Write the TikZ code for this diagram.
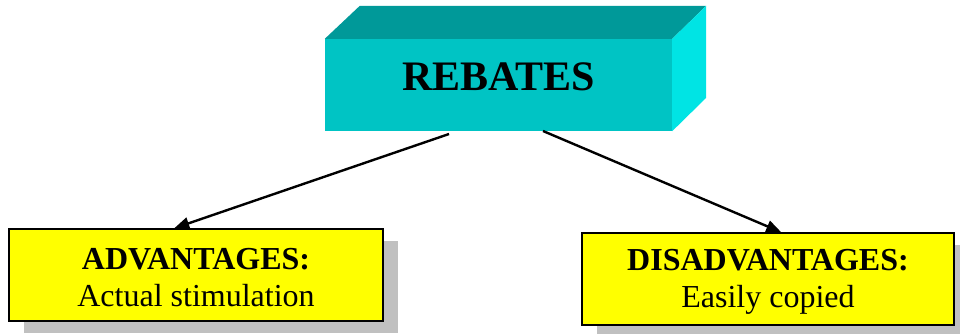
\documentclass[tikz,border=0pt]{standalone}
\usepackage{fontspec}
\setmainfont{Liberation Serif}
\usetikzlibrary{arrows.meta,calc}
\definecolor{cyanfront}{RGB}{0,196,196}
\definecolor{cyantop}{RGB}{0,153,153}
\definecolor{cyanside}{RGB}{0,228,228}
\definecolor{boxyellow}{RGB}{255,255,0}
\definecolor{shadowgray}{RGB}{192,192,192}
\begin{document}
\begin{tikzpicture}[x=1pt,y=-1pt,
  infobox/.style={draw=black,line width=1.5pt,fill=boxyellow,
    minimum width=374pt,minimum height=92pt,inner sep=0pt},
  boxtext/.style={align=center,font=\fontsize{32}{37}\selectfont},
  shadowbox/.style={fill=shadowgray,draw=none,
    minimum width=374pt,minimum height=92pt,inner sep=0pt},
  link/.style={line width=2.4pt,-{Triangle[length=15pt,width=12pt]}}]
\useasboundingbox (0,0) rectangle (960,334);

% 3D title block: front face, top face and right side
\node[fill=cyanfront,minimum width=347pt,minimum height=92pt,inner sep=0pt] (title) at (498.5,85) {};
\fill[cyantop] (title.north west) -- ++(35,-33) -- ($(title.north east)+(34,-33)$) -- (title.north east) -- cycle;
\fill[cyanside] (title.north east) -- ++(34,-33) -- ++(0,92) -- (title.south east) -- cycle;
\node[font=\fontsize{42}{44}\selectfont\bfseries] (titletext) at (498.5,77) {REBATES};

% shadows behind the two result boxes
\node[shadowbox] at (211,287) {};
\node[shadowbox,minimum width=372pt] at (783,291) {};

\node[infobox] (adv) at (196,275) {};
\node[boxtext] (advtext) at (196,278) {\textbf{ADVANTAGES:}\\Actual stimulation};
\node[infobox,minimum width=372pt] (dis) at (768,279) {};
\node[boxtext] (distext) at (768,282) {\textbf{DISADVANTAGES:}\\Easily copied};

\coordinate (ls) at (449,134);
\coordinate (rs) at (543,131);
\draw[link] (ls) -- ($(adv.north west)+(166,0)$);
\draw[link] (rs) -- ($(dis.north west)+(200,0)$);
\end{tikzpicture}
\end{document}
